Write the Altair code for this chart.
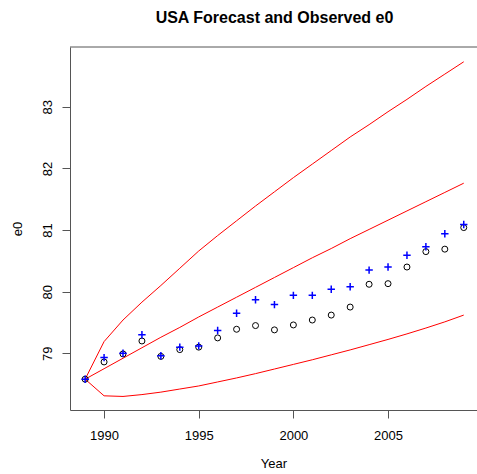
import altair as alt
import pandas as pd

title_text = "USA Forecast and Observed e0"

years = [1989, 1990, 1991, 1992, 1993, 1994, 1995, 1996, 1997, 1998, 1999,
         2000, 2001, 2002, 2003, 2004, 2005, 2006, 2007, 2008, 2009]

observed = [78.58, 78.86, 78.99, 79.20, 78.95, 79.06, 79.10, 79.25, 79.39, 79.45, 79.38,
            79.46, 79.54, 79.62, 79.75, 80.12, 80.13, 80.40, 80.65, 80.69, 81.04]

forecast = [78.58, 78.93, 79.00, 79.30, 78.96, 79.10, 79.12, 79.37, 79.65, 79.87, 79.79,
            79.94, 79.94, 80.04, 80.08, 80.35, 80.40, 80.59, 80.73, 80.94, 81.09]

upper = [78.58, 79.19, 79.54, 79.83, 80.10, 80.38, 80.66, 80.91, 81.15, 81.39, 81.62,
         81.85, 82.07, 82.29, 82.51, 82.71, 82.92, 83.12, 83.33, 83.53, 83.73]

median = [78.58, 78.75, 78.92, 79.09, 79.26, 79.42, 79.59, 79.75, 79.91, 80.07, 80.23,
          80.39, 80.55, 80.70, 80.86, 81.01, 81.16, 81.31, 81.46, 81.61, 81.76]

lower = [78.58, 78.31, 78.30, 78.33, 78.37, 78.42, 78.47, 78.535, 78.60, 78.67, 78.745,
         78.82, 78.895, 78.975, 79.055, 79.14, 79.225, 79.315, 79.41, 79.51, 79.62]

x_ticks = [1990, 1995, 2000, 2005]
y_ticks = [79, 80, 81, 82, 83]

W, H = 407, 363
FONT = "Liberation Sans"
FRAME = "#555555"

pts = pd.DataFrame({"year": years, "observed": observed, "forecast": forecast})
bands = pd.DataFrame({
    "year": years * 3,
    "value": upper + median + lower,
    "series": ["upper"] * len(years) + ["median"] * len(years) + ["lower"] * len(years),
})

xscale = alt.Scale(domain=[1988.2, 2009.7], nice=False, zero=False)
yscale = alt.Scale(domain=[78.08, 83.97], nice=False, zero=False)

xaxis = alt.Axis(values=x_ticks, format="d", tickSize=8, labelPadding=11.5,
                 labelBaseline="top", labelFlush=False, labelOverlap=False,
                 title="Year", titleY=57, titleBaseline="alphabetic", grid=False)
yaxis = alt.Axis(values=y_ticks, format="d", tickSize=8, labelPadding=10.6,
                 labelAngle=270, labelAlign="center", labelBaseline="alphabetic",
                 labelFlush=False, labelOverlap=False,
                 title="e0", titleAngle=270, titleX=-48.6, titleY=H / 2,
                 titleAlign="center", titleBaseline="alphabetic", grid=False)

lines = alt.Chart(bands).mark_line(color="#ff0000", strokeWidth=1).encode(
    x=alt.X("year:Q", scale=xscale, axis=xaxis),
    y=alt.Y("value:Q", scale=yscale, axis=yaxis),
    detail="series:N",
)

circles = alt.Chart(pts).mark_point(shape="circle", filled=False, color="black",
                                    size=36, strokeWidth=1, opacity=1).encode(
    x=alt.X("year:Q", scale=xscale),
    y=alt.Y("observed:Q", scale=yscale),
)

plus = alt.Chart(pts).mark_point(shape="M-1,0H1M0,-1V1", filled=False, color="#0000ff",
                                 size=55, strokeWidth=1.5, opacity=1).encode(
    x=alt.X("year:Q", scale=xscale),
    y=alt.Y("forecast:Q", scale=yscale),
)

top_border = alt.Chart(alt.Data(values=[{}])).mark_rule(color=FRAME, strokeWidth=1).encode(
    x=alt.value(0), x2=alt.value(W), y=alt.value(0)
)

title_mark = alt.Chart(alt.Data(values=[{}])).mark_text(
    text=title_text, font=FONT, fontSize=16, fontWeight="bold", color="black",
    align="center", baseline="alphabetic",
).encode(x=alt.value(W / 2 + 1), y=alt.value(22.5 - 47))

chart = alt.layer(lines, circles, plus, top_border, title_mark).properties(
    width=W, height=H,
    autosize=alt.AutoSizeParams(type="none"),
    padding={"left": 70, "top": 47, "right": 0, "bottom": 64},
).configure_view(strokeWidth=0).configure_axis(
    domainColor=FRAME, tickColor=FRAME, labelColor="black", titleColor="black",
    labelFont=FONT, titleFont=FONT, labelFontSize=13, titleFontSize=13,
    titleFontWeight="normal", domainWidth=1, tickWidth=1,
)

chart.save("out.html", embed_options={"renderer": "svg", "actions": False})
